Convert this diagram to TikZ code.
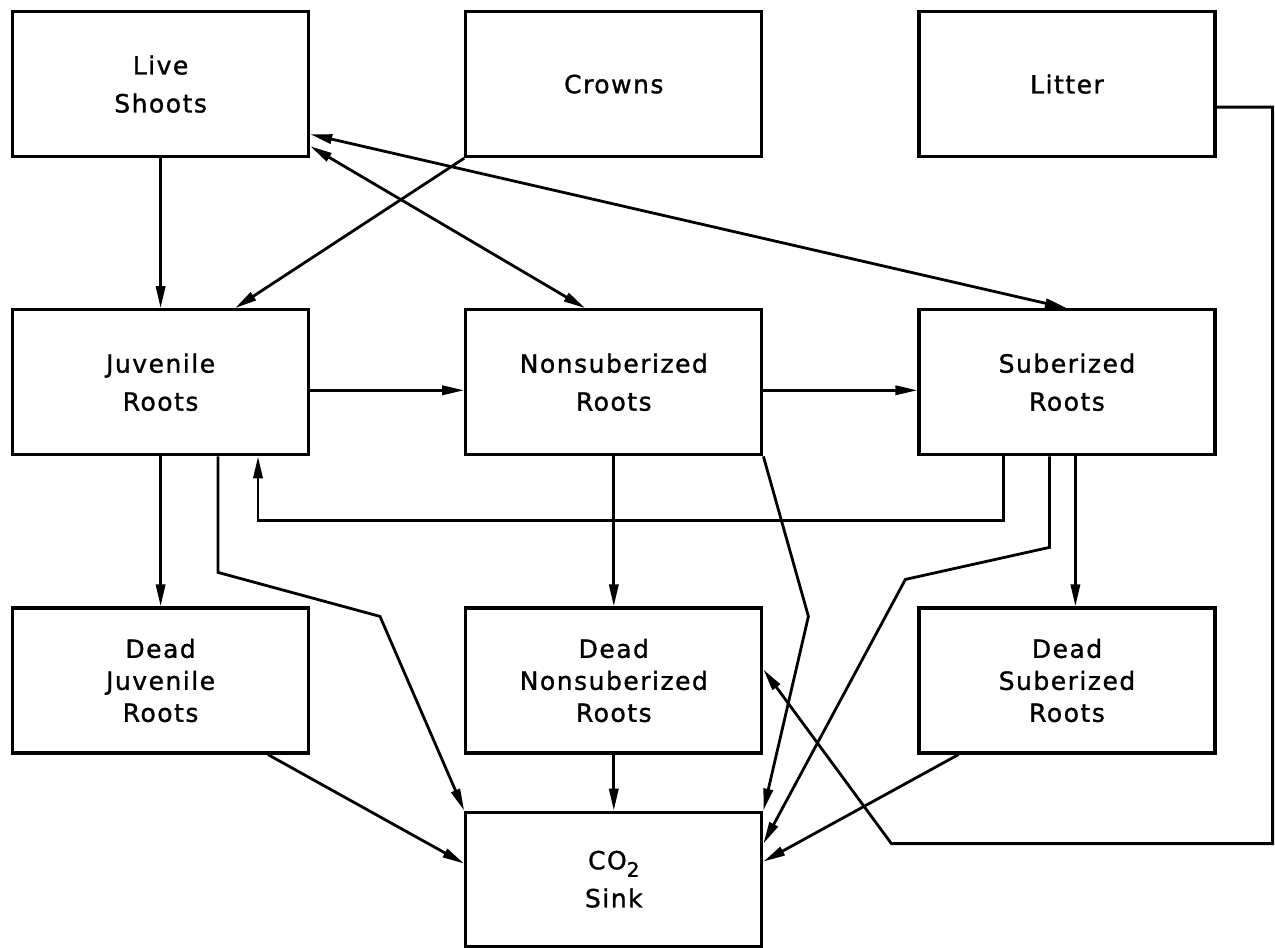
\documentclass[tikz,border=0pt]{standalone}
\usepackage{fontspec}
\newfontfamily\poolfont[LetterSpace=6,FakeBold=1.2]{DejaVu Sans}
\usetikzlibrary{arrows.meta,positioning,calc}

\begin{document}
\begin{tikzpicture}[
  font=\poolfont\fontsize{12.5}{19}\selectfont,
  node distance=75pt and 77pt,
  pool/.style={
    draw,
    line width=1.6pt,
    align=center,
    minimum width=148pt,
    minimum height=72.5pt,
    inner sep=0pt
  },
  deadpool/.style={
    pool,
    font=\poolfont\fontsize{12.5}{16}\selectfont
  },
  flow/.style={-{Triangle[length=11pt,width=4.6pt]},line width=1.4pt},
  twoway/.style={{Triangle[length=11pt,width=4.6pt]}-{Triangle[length=11pt,width=4.6pt]},line width=1.4pt}
]

% 1. Top row
\node[pool] (live) {Live\\Shoots};
\node[pool,right=of live] (crowns) {Crowns};
\node[pool,right=of crowns] (litter) {Litter};

% 2. Live roots
\node[pool,below=of live] (juv) {Juvenile\\Roots};
\node[pool,right=of juv] (nonsub) {Nonsuberized\\Roots};
\node[pool,right=of nonsub] (suber) {Suberized\\Roots};

% 3. Dead roots
\node[deadpool,below=of juv] (deadjuv) {Dead\\Juvenile\\Roots};
\node[deadpool,right=of deadjuv] (deadnon) {Dead\\Nonsuberized\\Roots};
\node[deadpool,right=of deadnon] (deadsub) {Dead\\Suberized\\Roots};

% 4. Sink
\node[pool,minimum height=67pt,below=28pt of deadnon] (co2) {CO\raisebox{-0.55ex}{\fontsize{10}{10}\selectfont 2}\\Sink};

\useasboundingbox ([shift={(-5.5pt,5pt)}]live.north west) rectangle ++(637.5pt,-471.5pt);
\coordinate (litterturn) at ([shift={(64pt,-16.5pt)}]co2.north east);

% Connections
\draw[flow] (live) -- (juv);
\draw[flow] (crowns.south west) -- ([xshift=112pt]juv.north west);
\draw[twoway] ([yshift=6pt]live.south east) -- ([xshift=60.5pt]nonsub.north west);
\draw[twoway] ([yshift=12pt]live.south east) -- (suber.north);

\draw[flow] ([yshift=-4pt]juv.east) -- ([yshift=-4pt]nonsub.west);
\draw[flow] ([yshift=-4pt]nonsub.east) -- ([yshift=-4pt]suber.west);
\draw[flow] ([xshift=43pt]suber.south west) -- ++(0,-32pt) -| ([xshift=123.5pt]juv.south west);

\draw[flow] (juv) -- (deadjuv);
\draw[flow] (nonsub) -- (deadnon);
\draw[flow] ([xshift=79pt]suber.south west) -- ([xshift=79pt]deadsub.north west);

% Respiration to the sink
\draw[flow] ([xshift=103.5pt]juv.south west) -- ++(0,-58pt) -- ++(81pt,-22pt) -- (co2.north west);
\draw[flow] (nonsub.south east) -- ++(22.5pt,-80pt) -- (co2.north east);
\draw[flow] ([xshift=66pt]suber.south west) -- ++(0,-45.5pt) -- ++(-72pt,-16pt) -- ([yshift=-16.5pt]co2.north east);
\draw[flow] ([xshift=128.5pt]deadjuv.south west) -- ([yshift=-26.5pt]co2.north west);
\draw[flow] (deadnon) -- (co2);
\draw[flow] ([xshift=20.5pt]deadsub.south west) -- ([yshift=-25.5pt]co2.north east);

% Litter
\draw[flow] ([yshift=-11.5pt]litter.east) -- ++(28pt,0) |- (litterturn) -- ([yshift=5.5pt]deadnon.east);

\end{tikzpicture}
\end{document}
